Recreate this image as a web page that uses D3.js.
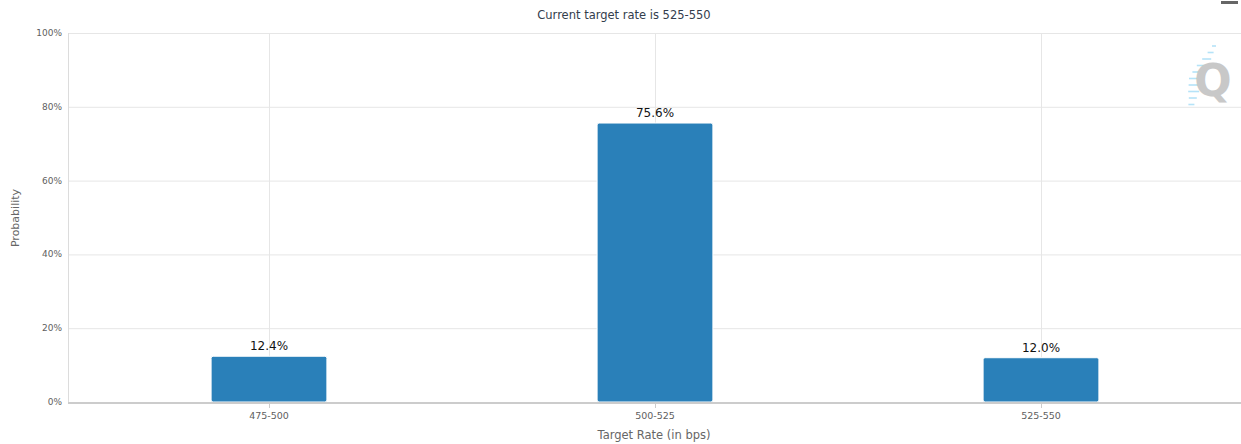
<!DOCTYPE html>
<html>
<head>
<meta charset="utf-8">
<script src="https://cdn.jsdelivr.net/npm/d3@7"></script>
<style>
  body { margin: 0; background: #fff; }
  svg { display: block; font-family: "DejaVu Sans", Verdana, sans-serif; }
</style>
</head>
<body>
<svg id="chart" width="1241" height="444"></svg>
<script>
// chart data
var categories = ['475-500', '500-525', '525-550'];
var probabilities = [12.4, 75.6, 12.0];
var yTicks = [0, 20, 40, 60, 80, 100];
var titleText = 'Current target rate is 525-550';

var svg = d3.select('#chart');
var plot = { left: 68, right: 1241, top: 33, bottom: 402 };

var y = d3.scaleLinear().domain([0, 100]).range([plot.bottom, plot.top]);
var x = d3.scalePoint().domain(categories).range([269, 1041]);
var barWidth = x.step() * 0.3;

// horizontal grid
svg.append('g').selectAll('line')
  .data(yTicks.filter(function(d) { return d > 0; }))
  .join('line')
  .attr('x1', plot.left).attr('x2', plot.right)
  .attr('y1', function(d) { return y(d) + 0.5; })
  .attr('y2', function(d) { return y(d) + 0.5; })
  .attr('stroke', '#e6e6e6');

// vertical grid at category centres
svg.append('g').selectAll('line')
  .data(categories)
  .join('line')
  .attr('x1', function(d) { return x(d) + 0.5; })
  .attr('x2', function(d) { return x(d) + 0.5; })
  .attr('y1', plot.top).attr('y2', plot.bottom)
  .attr('stroke', '#e6e6e6');

// left axis line
svg.append('line')
  .attr('x1', plot.left + 0.5).attr('x2', plot.left + 0.5)
  .attr('y1', plot.top).attr('y2', plot.bottom)
  .attr('stroke', '#dcdcdc');

// watermark (behind the plot marks)
var wm = svg.append('g');
var dashes = [4, 6, 9, 12, 14, 15, 13, 11, 8, 6];
dashes.forEach(function(len, i) {
  var yy = 46 + i * 6.5;
  var right = 1216 - i * 2.4;
  wm.append('line')
    .attr('x1', right - len).attr('x2', right)
    .attr('y1', yy).attr('y2', yy)
    .attr('stroke', '#b5e3f8').attr('stroke-width', 1.6);
});
wm.append('text')
  .attr('x', 1213).attr('y', 96)
  .attr('text-anchor', 'middle')
  .attr('font-size', 44)
  .attr('font-weight', 'bold')
  .attr('fill', '#c8c8c8')
  .text('Q');

// bars
svg.append('g').selectAll('rect')
  .data(probabilities)
  .join('rect')
  .attr('x', function(d, i) { return x(categories[i]) - barWidth / 2; })
  .attr('y', function(d) { return y(d); })
  .attr('width', barWidth)
  .attr('height', function(d) { return plot.bottom - y(d); })
  .attr('rx', 2)
  .attr('fill', '#2a80b9')
  .attr('stroke', '#fff')
  .attr('stroke-width', 1);

// bottom axis line + ticks
svg.append('line')
  .attr('x1', plot.left).attr('x2', plot.right)
  .attr('y1', plot.bottom + 1).attr('y2', plot.bottom + 1)
  .attr('stroke', '#ccc').attr('stroke-width', 2);

svg.append('g').selectAll('line')
  .data(categories)
  .join('line')
  .attr('x1', function(d) { return x(d) + 0.5; })
  .attr('x2', function(d) { return x(d) + 0.5; })
  .attr('y1', plot.bottom).attr('y2', plot.bottom + 6)
  .attr('stroke', '#ccc');

// data labels
svg.append('g').selectAll('text')
  .data(probabilities)
  .join('text')
  .attr('x', function(d, i) { return x(categories[i]); })
  .attr('y', function(d) { return y(d) - 6; })
  .attr('text-anchor', 'middle')
  .attr('font-size', 12)
  .attr('fill', '#111')
  .text(function(d) { return d.toFixed(1) + '%'; });

// y tick labels
svg.append('g').selectAll('text')
  .data(yTicks)
  .join('text')
  .attr('x', 62)
  .attr('y', function(d) { return y(d) + 3; })
  .attr('text-anchor', 'end')
  .attr('font-size', 9)
  .attr('fill', '#606060')
  .text(function(d) { return d + '%'; });

// x tick labels
svg.append('g').selectAll('text')
  .data(categories)
  .join('text')
  .attr('x', function(d) { return x(d); })
  .attr('y', 419)
  .attr('text-anchor', 'middle')
  .attr('font-size', 9.5)
  .attr('fill', '#606060')
  .text(function(d) { return d; });

// titles
svg.append('text')
  .attr('x', 624).attr('y', 19)
  .attr('text-anchor', 'middle')
  .attr('font-size', 11.5)
  .attr('fill', '#333d4d')
  .text(titleText);

svg.append('text')
  .attr('x', 654).attr('y', 439)
  .attr('text-anchor', 'middle')
  .attr('font-size', 11.5)
  .attr('fill', '#666')
  .text('Target Rate (in bps)');

svg.append('text')
  .attr('transform', 'translate(19,218) rotate(-90)')
  .attr('text-anchor', 'middle')
  .attr('font-size', 11)
  .attr('fill', '#666')
  .text('Probability');

// menu button (partly cut off)
svg.append('rect')
  .attr('x', 1221).attr('y', 1).attr('width', 17).attr('height', 3)
  .attr('fill', '#666');
</script>
</body>
</html>
